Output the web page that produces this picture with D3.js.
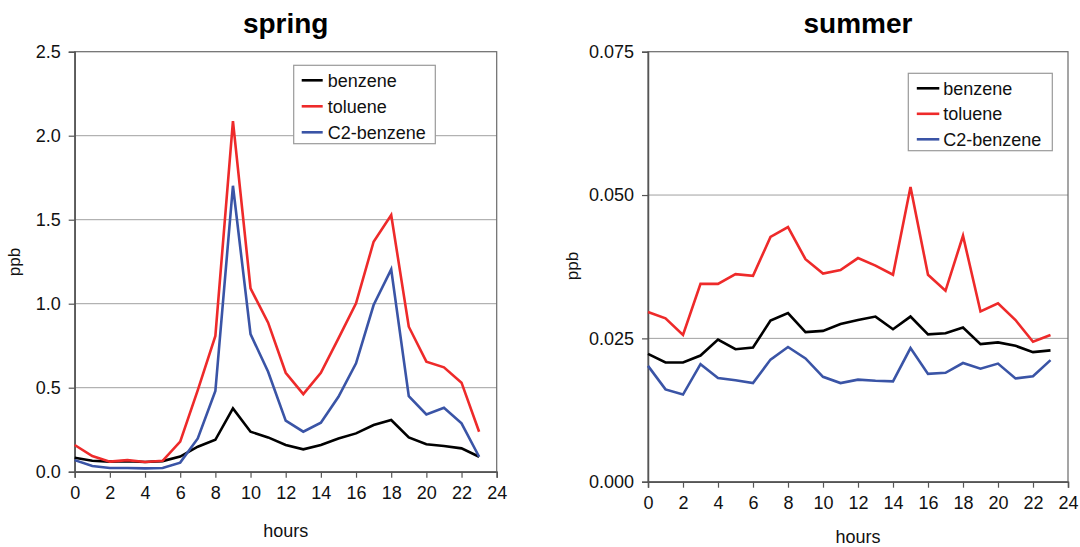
<!DOCTYPE html>
<html>
<head>
<meta charset="utf-8">
<script src="https://cdn.jsdelivr.net/npm/d3@7"></script>
<style>
  html, body { margin: 0; padding: 0; background: #fff; }
  svg { display: block; font-family: "Liberation Sans", Arial, sans-serif; }
</style>
</head>
<body>
<svg id="chart" width="1080" height="547"></svg>
<script>
const hours = d3.range(0, 24);
const seriesNames = ["benzene", "toluene", "C2-benzene"];
const seriesColors = ["#000000", "#ee2a2a", "#3a54a6"];

const springBenzene = [0.083, 0.065, 0.060, 0.063, 0.058, 0.063, 0.090, 0.149, 0.190, 0.377, 0.238, 0.204, 0.159, 0.133, 0.159, 0.198, 0.228, 0.278, 0.308, 0.204, 0.163, 0.153, 0.139, 0.089];
const springToluene = [0.159, 0.093, 0.060, 0.069, 0.058, 0.065, 0.179, 0.486, 0.808, 2.087, 1.091, 0.887, 0.589, 0.462, 0.589, 0.794, 1.002, 1.369, 1.528, 0.863, 0.655, 0.621, 0.530, 0.238];
const springC2 = [0.069, 0.034, 0.022, 0.022, 0.020, 0.022, 0.054, 0.198, 0.480, 1.702, 0.819, 0.595, 0.304, 0.238, 0.292, 0.446, 0.645, 0.992, 1.204, 0.450, 0.341, 0.381, 0.288, 0.089];

const summerBenzene = [0.0223, 0.0208, 0.0208, 0.0220, 0.0248, 0.0231, 0.0234, 0.0281, 0.0294, 0.0261, 0.0263, 0.0275, 0.0282, 0.0288, 0.0266, 0.0288, 0.0257, 0.0259, 0.0269, 0.0240, 0.0243, 0.0237, 0.0226, 0.0229];
const summerToluene = [0.0296, 0.0285, 0.0256, 0.0345, 0.0345, 0.0362, 0.0359, 0.0427, 0.0444, 0.0388, 0.0363, 0.0369, 0.0390, 0.0377, 0.0361, 0.0514, 0.0361, 0.0333, 0.0429, 0.0297, 0.0311, 0.0282, 0.0244, 0.0256];
const summerC2 = [0.0202, 0.0161, 0.0152, 0.0205, 0.0181, 0.0177, 0.0172, 0.0213, 0.0235, 0.0215, 0.0183, 0.0172, 0.0178, 0.0176, 0.0175, 0.0233, 0.0188, 0.0190, 0.0207, 0.0197, 0.0206, 0.0180, 0.0184, 0.0212];

const xTicks = d3.range(0, 25, 2);
const springYTicks = [0, 0.5, 1.0, 1.5, 2.0, 2.5];
const summerYTicks = [0, 0.025, 0.050, 0.075];

const svg = d3.select("#chart");

function drawPanel(cfg) {
  const g = svg.append("g");
  const x = d3.scaleLinear().domain([0, 24]).range([cfg.left, cfg.right]);
  const y = d3.scaleLinear().domain([0, cfg.yMax]).range([cfg.bottom, cfg.top]);

  // grid lines
  g.append("g").selectAll("line").data(cfg.yTicks.filter(t => t > 0 && t < cfg.yMax))
    .join("line")
    .attr("x1", cfg.left).attr("x2", cfg.right)
    .attr("y1", d => y(d)).attr("y2", d => y(d))
    .attr("stroke", "#a0a0a0").attr("stroke-width", 1);

  // plot frame (top & right)
  g.append("rect")
    .attr("x", cfg.left).attr("y", cfg.top)
    .attr("width", cfg.right - cfg.left).attr("height", cfg.bottom - cfg.top)
    .attr("fill", "none").attr("stroke", "#6a6a6a").attr("stroke-width", 1.2);

  // y axis
  const yAxis = d3.axisLeft(y).tickValues(cfg.yTicks).tickFormat(d3.format(cfg.yFmt)).tickSizeOuter(0).tickSize(6).tickPadding(8);
  const ya = g.append("g").attr("transform", `translate(${cfg.left},0)`).call(yAxis);
  ya.select(".domain").attr("stroke", "#555").attr("stroke-width", 1.5);
  ya.selectAll(".tick line").attr("stroke", "#555").attr("stroke-width", 1.2);
  ya.selectAll(".tick text").attr("font-size", 18).attr("fill", "#111").attr("font-family", "Liberation Sans, Arial, sans-serif");

  // x axis
  const xAxis = d3.axisBottom(x).tickValues(xTicks).tickFormat(d3.format("d")).tickSizeOuter(0).tickSize(6).tickPadding(cfg.xPad);
  const xa = g.append("g").attr("transform", `translate(0,${cfg.bottom})`).call(xAxis);
  xa.select(".domain").attr("stroke", "#555").attr("stroke-width", 1.5);
  xa.selectAll(".tick line").attr("stroke", "#555").attr("stroke-width", 1.2);
  xa.selectAll(".tick text").attr("font-size", 18).attr("fill", "#111").attr("font-family", "Liberation Sans, Arial, sans-serif");

  // lines
  const line = d3.line().x((d, i) => x(hours[i])).y(d => y(d));
  cfg.series.forEach((s, i) => {
    g.append("path").datum(s)
      .attr("d", line)
      .attr("fill", "none")
      .attr("stroke", seriesColors[i])
      .attr("stroke-width", 2.6)
      .attr("stroke-linejoin", "miter");
  });

  // title
  g.append("text")
    .attr("x", (cfg.left + cfg.right) / 2).attr("y", 33)
    .attr("text-anchor", "middle")
    .attr("font-size", 28).attr("font-weight", "bold").attr("fill", "#000")
    .text(cfg.title);

  // x label
  g.append("text")
    .attr("x", (cfg.left + cfg.right) / 2).attr("y", cfg.xLabelY)
    .attr("text-anchor", "middle")
    .attr("font-size", 18).attr("fill", "#111")
    .text("hours");

  // y label
  g.append("text")
    .attr("transform", `translate(${cfg.yLabelX},${cfg.yLabelY}) rotate(-90)`)
    .attr("text-anchor", "middle")
    .attr("font-size", 17).attr("fill", "#111")
    .text("ppb");

  // legend
  const L = cfg.legend;
  const lg = g.append("g");
  lg.append("rect")
    .attr("x", L.x).attr("y", L.y).attr("width", L.w).attr("height", L.h)
    .attr("fill", "#fff").attr("stroke", "#9a9a9a").attr("stroke-width", 1.2);
  seriesNames.forEach((name, i) => {
    const cy = L.y + L.first + i * L.step;
    lg.append("line")
      .attr("x1", L.x + L.lx1).attr("x2", L.x + L.lx2)
      .attr("y1", cy).attr("y2", cy)
      .attr("stroke", seriesColors[i]).attr("stroke-width", 2.6);
    lg.append("text")
      .attr("x", L.x + L.tx).attr("y", cy).attr("dy", "0.35em")
      .attr("font-size", 18).attr("fill", "#111")
      .text(name);
  });
}

drawPanel({
  title: "spring",
  left: 74.7, right: 496.7, top: 51.7, bottom: 471.7,
  yMax: 2.5, yTicks: springYTicks, yFmt: ".1f",
  series: [springBenzene, springToluene, springC2],
  xPad: 9, xLabelY: 537,
  yLabelX: 20, yLabelY: 262,
  legend: { x: 293.7, y: 65.3, w: 141.6, h: 78.4, first: 15, step: 26, lx1: 8, lx2: 29, tx: 34 }
});

drawPanel({
  title: "summer",
  left: 648, right: 1068, top: 51.7, bottom: 481.7,
  yMax: 0.075, yTicks: summerYTicks, yFmt: ".3f",
  series: [summerBenzene, summerToluene, summerC2],
  xPad: 9, xLabelY: 543,
  yLabelX: 578, yLabelY: 266,
  legend: { x: 908.3, y: 73.3, w: 144, h: 77.4, first: 15, step: 25.5, lx1: 8.5, lx2: 31, tx: 35 }
});
</script>
</body>
</html>
